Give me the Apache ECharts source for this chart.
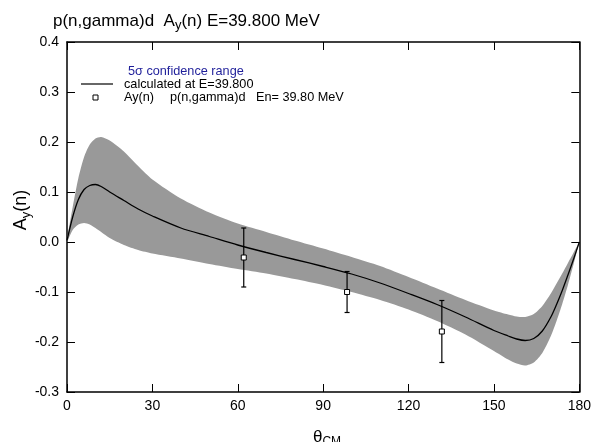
<!DOCTYPE html>
<html>
<head>
<meta charset="utf-8">
<script src="https://cdn.jsdelivr.net/npm/echarts/dist/echarts.min.js"></script>
<style>
html,body{margin:0;padding:0;background:#fff;}
#chart{width:594px;height:442px;}
</style>
</head>
<body>
<div id="chart"></div>
<script>
// Theory curve (angle grid in degrees)
const theta   = [0, 2, 4, 6, 8, 10, 12, 15, 20, 25, 30, 40, 50, 60, 70, 80, 90, 100, 110, 120, 130, 140, 150, 155, 158, 161, 164, 167, 170, 172, 174, 176, 178, 180];
const central = [0.003, 0.05, 0.085, 0.105, 0.113, 0.115, 0.111, 0.1, 0.083, 0.066, 0.052, 0.028, 0.011, -0.006, -0.021, -0.035, -0.049, -0.064, -0.082, -0.103, -0.125, -0.15, -0.177, -0.188, -0.194, -0.197, -0.193, -0.178, -0.15, -0.125, -0.097, -0.066, -0.034, 0.0];
const upper   = [0.005, 0.07, 0.128, 0.17, 0.195, 0.207, 0.21, 0.203, 0.181, 0.152, 0.125, 0.087, 0.059, 0.037, 0.02, 0.003, -0.013, -0.03, -0.048, -0.07, -0.093, -0.116, -0.137, -0.145, -0.149, -0.15, -0.144, -0.128, -0.103, -0.083, -0.063, -0.042, -0.021, 0.0];
const lower   = [0.0, 0.024, 0.035, 0.038, 0.035, 0.028, 0.02, 0.008, -0.006, -0.016, -0.023, -0.033, -0.044, -0.054, -0.063, -0.074, -0.086, -0.1, -0.116, -0.135, -0.158, -0.185, -0.218, -0.235, -0.243, -0.247, -0.241, -0.222, -0.188, -0.158, -0.124, -0.086, -0.044, 0.0];

// Experimental points
const expTheta = [62.1, 98.4, 131.7];
const expAy    = [-0.031, -0.100, -0.179];
const expErr   = [0.059, 0.041, 0.062];

// Axis ticks
const xTicks = [0, 30, 60, 90, 120, 150, 180];
const yTicks = [-0.3, -0.2, -0.1, 0.0, 0.1, 0.2, 0.3, 0.4];

const FONT = "'Liberation Sans', Arial, Helvetica, sans-serif";
const chart = echarts.init(document.getElementById('chart'), null, {renderer: 'canvas'});

const axisCommon = {
  axisLine: {show: true, onZero: false, lineStyle: {color: '#000', width: 1.5}},
  axisTick: {show: true, inside: true, length: 8, lineStyle: {color: '#000', width: 1}},
  splitLine: {show: false}
};

const option = {
  animation: false,
  backgroundColor: '#fff',
  title: {
    left: 48, top: 5,
    text: '{a|p(n,gamma)d  A}{s|y}{a|(n) E=39.800 MeV}',
    textStyle: {
      fontWeight: 'normal',
      rich: {
        a: {fontSize: 17, fontFamily: FONT, fontWeight: 'normal', color: '#000', lineHeight: 22},
        s: {fontSize: 13, fontFamily: FONT, fontWeight: 'normal', color: '#000', lineHeight: 12, verticalAlign: 'bottom'}
      }
    }
  },
  grid: {left: 67, right: 7, top: 42, bottom: 50, containLabel: false},
  xAxis: [
    Object.assign({
      type: 'value', min: xTicks[0], max: xTicks[xTicks.length - 1], interval: 30, position: 'bottom',
      axisLabel: {color: '#000', fontSize: 14, fontFamily: FONT, margin: 7,
        formatter: v => xTicks.includes(Math.round(v)) ? String(Math.round(v)) : ''}
    }, axisCommon),
    Object.assign({
      type: 'value', min: xTicks[0], max: xTicks[xTicks.length - 1], interval: 30, position: 'top',
      axisLabel: {show: false}
    }, axisCommon)
  ],
  yAxis: [
    Object.assign({
      type: 'value', min: yTicks[0], max: yTicks[yTicks.length - 1], interval: 0.1, position: 'left',
      axisLabel: {color: '#000', fontSize: 14, fontFamily: FONT, margin: 8,
        formatter: v => (Math.abs(v) < 1e-9 ? 0 : v).toFixed(1)}
    }, axisCommon),
    Object.assign({
      type: 'value', min: yTicks[0], max: yTicks[yTicks.length - 1], interval: 0.1, position: 'right',
      axisLabel: {show: false}
    }, axisCommon)
  ],
  graphic: [
    {type: 'text', x: 21, y: 210, rotation: Math.PI / 2,
      style: {text: '{a|A}{s|y}{a|(n)}', align: 'center', verticalAlign: 'middle',
        rich: {
          a: {fontSize: 18, fontFamily: FONT, fill: '#000', lineHeight: 24},
          s: {fontSize: 13, fontFamily: FONT, fill: '#000', lineHeight: 13, verticalAlign: 'bottom'}
        }}},
    {type: 'text', x: 327, y: 437,
      style: {text: '{a|θ}{s|CM}', align: 'center', verticalAlign: 'middle',
        rich: {
          a: {fontSize: 17, fontFamily: FONT, fill: '#000', lineHeight: 22},
          s: {fontSize: 12, fontFamily: FONT, fill: '#000', lineHeight: 12, verticalAlign: 'bottom'}
        }}},
    {type: 'text', x: 128, y: 71.5,
      style: {text: '5σ confidence range', fontSize: 12.7, fontFamily: FONT, fill: '#1f1f9a', verticalAlign: 'middle'}},
    {type: 'line', shape: {x1: 81, y1: 84, x2: 113, y2: 84}, style: {stroke: '#000', lineWidth: 1.2}},
    {type: 'text', x: 124, y: 84.5,
      style: {text: 'calculated at E=39.800', fontSize: 12.7, fontFamily: FONT, fill: '#000', verticalAlign: 'middle'}},
    {type: 'rect', shape: {x: 93, y: 95, width: 5, height: 5}, style: {fill: '#fff', stroke: '#000', lineWidth: 1}},
    {type: 'text', x: 124, y: 97.5,
      style: {text: 'Ay(n)', fontSize: 12.7, fontFamily: FONT, fill: '#000', verticalAlign: 'middle'}},
    {type: 'text', x: 170, y: 97.5,
      style: {text: 'p(n,gamma)d', fontSize: 12.7, fontFamily: FONT, fill: '#000', verticalAlign: 'middle'}},
    {type: 'text', x: 256, y: 97.5,
      style: {text: 'En= 39.80 MeV', fontSize: 12.7, fontFamily: FONT, fill: '#000', verticalAlign: 'middle'}}
  ],
  series: [
    {
      name: 'band', type: 'custom', z: 1, silent: true, clip: true,
      data: [[0]],
      renderItem: function (params, api) {
        const pts = [];
        for (let i = 0; i < theta.length; i++) pts.push(api.coord([theta[i], upper[i]]));
        for (let i = theta.length - 1; i >= 0; i--) pts.push(api.coord([theta[i], lower[i]]));
        return {type: 'polygon', shape: {points: pts, smooth: 0.25},
          style: {fill: '#999999', stroke: 'none'}};
      }
    },
    {
      name: 'calculated', type: 'line',
      data: theta.map((t, i) => [t, central[i]]),
      symbol: 'none', smooth: 0.3, lineStyle: {color: '#000', width: 1.3}, z: 3
    },
    {
      name: 'Ay(n)', type: 'custom', z: 4,
      data: expTheta.map((t, i) => [t, expAy[i], expAy[i] - expErr[i], expAy[i] + expErr[i]]),
      renderItem: function (params, api) {
        const p = api.coord([api.value(0), api.value(1)]);
        const pl = api.coord([api.value(0), api.value(2)]);
        const ph = api.coord([api.value(0), api.value(3)]);
        const c = 2.5, s = 2.5;
        const ls = {stroke: '#000', lineWidth: 1.2};
        return {type: 'group', children: [
          {type: 'line', shape: {x1: pl[0], y1: pl[1], x2: ph[0], y2: ph[1]}, style: ls},
          {type: 'line', shape: {x1: pl[0] - c, y1: pl[1], x2: pl[0] + c, y2: pl[1]}, style: ls},
          {type: 'line', shape: {x1: ph[0] - c, y1: ph[1], x2: ph[0] + c, y2: ph[1]}, style: ls},
          {type: 'rect', shape: {x: p[0] - s, y: p[1] - s, width: 2 * s, height: 2 * s},
            style: {fill: '#fff', stroke: '#000', lineWidth: 1}}
        ]};
      }
    }
  ]
};
chart.setOption(option);
</script>
</body>
</html>
